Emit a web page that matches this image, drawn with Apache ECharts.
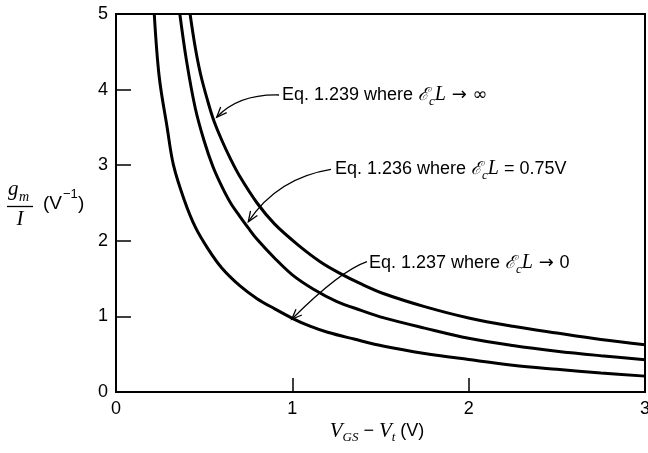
<!DOCTYPE html>
<html><head><meta charset="utf-8">
<script src="https://cdn.jsdelivr.net/npm/echarts@6/dist/echarts.min.js"></script>
<style>html,body{margin:0;padding:0;background:#fff}#c{width:648px;height:453px}</style>
</head><body><div id="c"></div>
<script>
// ---- data ----
const xTickLabels = ['0', '1', '2', '3'];
const yTickLabels = ['0', '1', '2', '3', '4', '5'];

// Eq. 1.239 where EcL -> infinity (top curve)
const infX = [0.42, 0.45, 0.48, 0.52, 0.556, 0.60, 0.65, 0.70, 0.80, 0.90, 1.03, 1.16, 1.27, 1.39, 1.52, 1.75, 2.0, 2.25, 2.5, 2.75, 3.0];
const infY = [5.0, 4.55, 4.2, 3.85, 3.58, 3.33, 3.08, 2.86, 2.50, 2.22, 1.95, 1.72, 1.57, 1.43, 1.30, 1.13, 0.98, 0.87, 0.78, 0.695, 0.625];

// Eq. 1.236 where EcL = 0.75V (middle curve)
const midX = [0.362, 0.40, 0.45, 0.50, 0.55, 0.60, 0.65, 0.70, 0.75, 0.80, 0.90, 1.00, 1.12, 1.25, 1.39, 1.52, 1.75, 2.0, 2.25, 2.5, 2.75, 3.0];
const midY = [5.0, 4.38, 3.75, 3.32, 2.98, 2.72, 2.50, 2.33, 2.17, 2.02, 1.77, 1.55, 1.36, 1.20, 1.08, 0.98, 0.845, 0.71, 0.615, 0.54, 0.48, 0.427];

// Eq. 1.237 where EcL -> 0 (bottom curve)
const zeroX = [0.217, 0.245, 0.29, 0.326, 0.387, 0.45, 0.52, 0.60, 0.70, 0.80, 0.90, 1.0, 1.1, 1.2, 1.35, 1.52, 1.75, 2.0, 2.25, 2.5, 2.75, 3.0];
const zeroY = [5.0, 4.17, 3.5, 3.0, 2.54, 2.18, 1.90, 1.64, 1.41, 1.235, 1.10, 0.975, 0.87, 0.79, 0.70, 0.605, 0.51, 0.43, 0.355, 0.30, 0.25, 0.21];

const SANS = '"Liberation Sans", Arial, Helvetica, sans-serif';
const SERIF = '"Liberation Serif", "Times New Roman", serif';

function pairs(xs, ys) { return xs.map((x, i) => [x, ys[i]]); }

const chart = echarts.init(document.getElementById('c'), null, { renderer: 'canvas' });

function curveSeries(name, xs, ys) {
  return {
    name, type: 'line', data: pairs(xs, ys), smooth: 0.35,
    symbol: 'none', lineStyle: { color: '#000', width: 3 }, silent: true
  };
}

// arrow annotation helpers (pixel space)
function arrow(tip, ctrl, end) {
  const dx = ctrl[0] - tip[0], dy = ctrl[1] - tip[1];
  const len = Math.hypot(dx, dy), ux = dx / len, uy = dy / len;
  const L = 11, a = 22 * Math.PI / 180;
  const rot = (s) => [tip[0] + L * (ux * Math.cos(s) - uy * Math.sin(s)), tip[1] + L * (ux * Math.sin(s) + uy * Math.cos(s))];
  return [
    { type: 'bezierCurve', shape: { x1: tip[0], y1: tip[1], cpx1: ctrl[0], cpy1: ctrl[1], x2: end[0], y2: end[1] },
      style: { stroke: '#000', lineWidth: 1.3, fill: null } },
    { type: 'polyline', shape: { points: [rot(a), tip, rot(-a)] }, style: { stroke: '#000', lineWidth: 1.3, fill: null } }
  ];
}

const richEq = {
  t: { fontFamily: SANS, fontSize: 18, color: '#000', lineHeight: 26 },
  a: { fontFamily: '"DejaVu Sans", sans-serif', fontSize: 18, color: '#000', lineHeight: 26 },
  e: { fontFamily: '"DejaVu Serif", serif', fontStyle: 'italic', fontSize: 18, color: '#000', lineHeight: 26 },
  c: { fontFamily: SERIF, fontStyle: 'italic', fontSize: 13, color: '#000', verticalAlign: 'bottom', lineHeight: 26 },
  l: { fontFamily: SERIF, fontStyle: 'italic', fontSize: 20, color: '#000', lineHeight: 26 }
};

function eqLabel(x, y, txt) {
  return { type: 'text', x, y, style: { text: txt, rich: richEq, textVerticalAlign: 'middle', textAlign: 'left', fill: '#000', font: '18px ' + SANS } };
}

const graphics = [].concat(
  arrow([216.7, 117.3], [238.5, 94], [279, 95]),
  arrow([248.3, 221.7], [277.4, 177.9], [331, 169.3]),
  arrow([291.7, 319.3], [340, 271], [367, 261.7]),
  [
    eqLabel(282, 95, '{t|Eq. 1.239 where }{e|ℰ}{c|c}{l|L}{a| → ∞}'),
    eqLabel(335, 169, '{t|Eq. 1.236 where }{e|ℰ}{c|c}{l|L}{t| = 0.75V}'),
    eqLabel(369, 263, '{t|Eq. 1.237 where }{e|ℰ}{c|c}{l|L}{a| → }{t|0}'),
    // y-axis title g_m / I (V^-1)
    { type: 'text', x: 8, y: 200, style: { text: 'g', font: 'italic 21px ' + SERIF, fill: '#000', textVerticalAlign: 'bottom' } },
    { type: 'text', x: 19, y: 204, style: { text: 'm', font: 'italic 14px ' + SERIF, fill: '#000', textVerticalAlign: 'bottom' } },
    { type: 'line', shape: { x1: 7, y1: 206.5, x2: 33, y2: 206.5 }, style: { stroke: '#000', lineWidth: 1.3 } },
    { type: 'text', x: 20, y: 209, style: { text: 'I', font: 'italic 21px ' + SERIF, fill: '#000', textAlign: 'center', textVerticalAlign: 'top' } },
    { type: 'text', x: 43, y: 204, style: { text: '(V', font: '19px ' + SANS, fill: '#000', textVerticalAlign: 'middle' } },
    { type: 'text', x: 63, y: 201, style: { text: '−1', font: '13px ' + SANS, fill: '#000', textVerticalAlign: 'bottom' } },
    { type: 'text', x: 78, y: 204, style: { text: ')', font: '19px ' + SANS, fill: '#000', textVerticalAlign: 'middle' } },
    // x-axis title V_GS - V_t (V)
    { type: 'text', x: 377, y: 431, style: {
        text: '{v|V}{s|GS}{t| − }{v|V}{s|t}{t| (V)}', textAlign: 'center', textVerticalAlign: 'middle',
        rich: {
          v: { fontFamily: SERIF, fontStyle: 'italic', fontSize: 21, color: '#000', lineHeight: 26 },
          s: { fontFamily: SERIF, fontStyle: 'italic', fontSize: 13, color: '#000', verticalAlign: 'bottom', lineHeight: 26 },
          t: { fontFamily: SANS, fontSize: 18, color: '#000', lineHeight: 26 }
        } } }
  ]
);

chart.setOption({
  animation: false,
  backgroundColor: '#fff',
  grid: { left: 116, right: 3, top: 14, bottom: 61, show: true, borderColor: '#000', borderWidth: 2,
          backgroundColor: 'transparent', containLabel: false, outerBoundsMode: 'none' },
  xAxis: {
    type: 'value', min: 0, max: 3, interval: 1,
    axisLine: { show: true, lineStyle: { color: '#000', width: 2 } },
    axisTick: { show: true, inside: true, length: 14, lineStyle: { color: '#000', width: 1.5 } },
    axisLabel: { color: '#000', fontSize: 18, fontFamily: SANS, margin: 8, formatter: (v) => xTickLabels[Math.round(v)] },
    splitLine: { show: false }
  },
  yAxis: {
    type: 'value', min: 0, max: 5, interval: 1,
    axisLine: { show: true, lineStyle: { color: '#000', width: 2 } },
    axisTick: { show: true, inside: true, length: 15, lineStyle: { color: '#000', width: 1.5 } },
    axisLabel: { color: '#000', fontSize: 18, fontFamily: SANS, margin: 8, formatter: (v) => yTickLabels[Math.round(v)] },
    splitLine: { show: false }
  },
  series: [
    curveSeries('Eq. 1.239', infX, infY),
    curveSeries('Eq. 1.236', midX, midY),
    curveSeries('Eq. 1.237', zeroX, zeroY)
  ],
  graphic: graphics
});
</script>
</body></html>
